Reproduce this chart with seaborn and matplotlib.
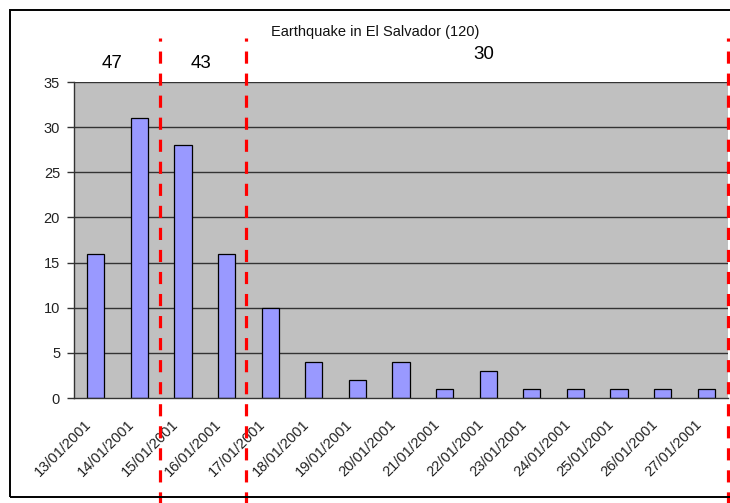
import matplotlib
matplotlib.use("Agg")
import matplotlib.pyplot as plt
import matplotlib.transforms as mtransforms
import seaborn as sns
import pandas as pd
from matplotlib.patches import Rectangle

dates = ["13/01/2001", "14/01/2001", "15/01/2001", "16/01/2001", "17/01/2001",
         "18/01/2001", "19/01/2001", "20/01/2001", "21/01/2001", "22/01/2001",
         "23/01/2001", "24/01/2001", "25/01/2001", "26/01/2001", "27/01/2001"]
counts = [16, 31, 28, 16, 10, 4, 2, 4, 1, 3, 1, 1, 1, 1, 1]
group_labels = ["47", "43", "30"]
group_centers = [0.37, 2.41, 8.9]
group_y = [37.0, 37.0, 38.0]
boundaries = [1.47, 3.45, 14.5]
yticks = [0, 5, 10, 15, 20, 25, 30, 35]
title = "Earthquake in El Salvador (120)"

df = pd.DataFrame({"date": dates, "count": counts})

sns.set_theme(style="white")
plt.rcParams['font.family'] = ['Liberation Sans', 'DejaVu Sans']

fig = plt.figure(figsize=(7.3, 5.03), dpi=100)
fig.patch.set_facecolor("white")
ax = fig.add_axes([74/730, 1-398/503, (728-74)/730, (398-82)/503])

sns.barplot(data=df, x="date", y="count", ax=ax, color="#9999FF",
            edgecolor="black", linewidth=0.9, width=0.39, saturation=1)

ax.set_facecolor("#C0C0C0")
ax.set_xlim(-0.5, len(dates) - 0.5)
ax.set_ylim(0, 35)
ax.set_yticks(yticks)
ax.set_yticklabels([str(v) for v in yticks], fontsize=10.5, color="#222222")
for y in yticks[1:]:
    ax.axhline(y, color="#333333", linewidth=1.0, zorder=0.5)

ax.set_xticks(range(len(dates)))
ax.set_xticklabels(dates, rotation=45, ha="right", rotation_mode="anchor",
                   fontsize=10.5, color="#222222")
ax.tick_params(axis="x", which="major", length=0, pad=14)
offset = mtransforms.ScaledTranslation(-12/100, 0, fig.dpi_scale_trans)
for lab in ax.get_xticklabels():
    lab.set_transform(lab.get_transform() + offset)
ax.set_xticks([i - 0.5 for i in range(len(dates) + 1)], minor=True)
ax.tick_params(axis="x", which="minor", length=5, width=1, color="#333333", direction="out")
ax.tick_params(axis="y", length=5, width=1, color="#333333", direction="out", left=True, pad=5)
ax.set_xlabel("")
ax.set_ylabel("")

for s in ["left", "bottom"]:
    ax.spines[s].set_color("#333333")
    ax.spines[s].set_linewidth(1.0)
ax.spines["top"].set_visible(False)
ax.spines["right"].set_visible(False)

for b in boundaries:
    ax.axvline(b, ymin=-0.34, ymax=1.14, color="#FF0000", linewidth=2.3,
               linestyle=(0, (3.8, 3.1)), clip_on=False, zorder=5)

for lab, c, yy in zip(group_labels, group_centers, group_y):
    ax.text(c, yy, lab, ha="center", va="center", fontsize=13.5, color="black", clip_on=False)

fig.text(375/730, 1-32/503, title, ha="center", va="center", fontsize=10.5, color="#111111")

fig.patches.append(Rectangle((10/730, 1-497/503), 1.0, (497-10)/503,
                             transform=fig.transFigure, fill=False,
                             edgecolor="black", linewidth=1.4))

fig.savefig("out.png", dpi=100)
